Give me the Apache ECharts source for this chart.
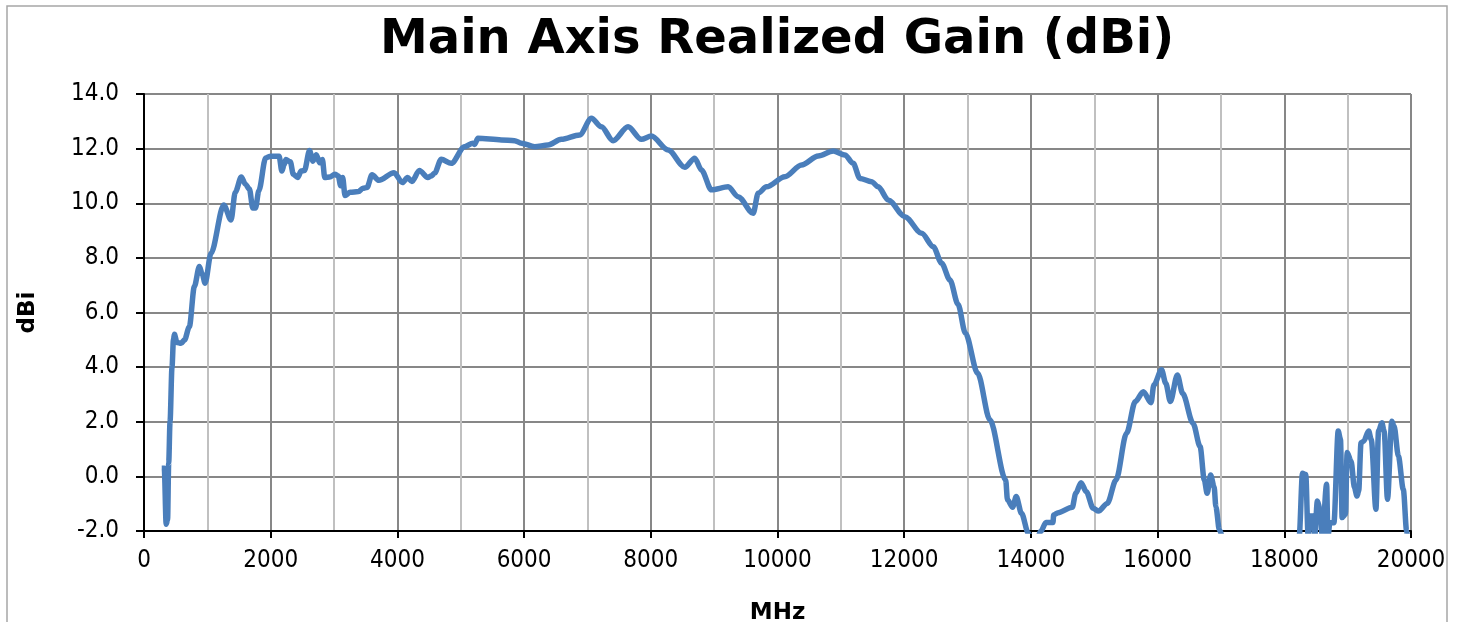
<!DOCTYPE html>
<html>
<head>
<meta charset="utf-8">
<title>Main Axis Realized Gain</title>
<script src="https://cdn.jsdelivr.net/npm/echarts@6.0.0/dist/echarts.min.js"></script>
<style>
  html, body { margin: 0; padding: 0; background: #fff; }
  #chart { width: 1460px; height: 622px; }
</style>
</head>
<body>
<div id="chart"></div>
<script>
// frequency samples (MHz)
const freqMHz = [
  280, 320, 350, 372, 390, 411, 442, 465, 480, 520, 585, 640, 716, 795, 874, 920, 964,
  1058, 1259, 1374, 1440, 1536, 1600, 1664, 1717, 1760, 1813, 1920, 2000, 2133, 2176,
  2213, 2240, 2309, 2357, 2427, 2480, 2533, 2613, 2667, 2720, 2773, 2816, 2853, 2933,
  3013, 3067, 3104, 3136, 3173, 3253, 3387, 3456, 3520, 3600, 3707, 3947, 4080, 4160,
  4229, 4347, 4480, 4533, 4587, 4692, 4850, 5060, 5192, 5218, 5271, 5640, 5850, 5956,
  6167, 6378, 6588, 6877, 7062, 7220, 7404, 7641, 7851, 8009, 8273, 8536, 8694, 8799,
  8957, 9221, 9379, 9616, 9695, 9826, 10116, 10379, 10643, 10880, 11063, 11195, 11300,
  11485, 11590, 11748, 12011, 12275, 12460, 12591, 12722, 12850, 12966, 13159, 13353,
  13602, 13630, 13712, 13768, 13851, 13961, 14060, 14155, 14238, 14348, 14360, 14431,
  14653, 14708, 14791, 14874, 14984, 15067, 15206, 15344, 15510, 15648, 15775, 15897,
  15941, 16063, 16129, 16201, 16312, 16395, 16560, 16671, 16737, 16782, 16837, 16892,
  16920, 16975, 17100, 18150, 18235, 18287, 18339, 18376, 18402, 18459, 18480, 18522,
  18564, 18600, 18668, 18689, 18720, 18783, 18851, 18887, 18913, 18965, 18992, 19054,
  19107, 19148, 19174, 19211, 19253, 19331, 19373, 19446, 19488, 19540, 19576, 19629,
  19697, 19733, 19801, 19879, 19931, 19960
];

// realized gain (dBi) at each frequency above
const gainDbi = [
  0.3, 0.3, -1.75, -1.6, 0.5, 2.0, 4.0, 5.0, 5.2, 4.9, 4.87, 5.0, 5.48, 6.95, 7.68, 7.4, 7.07,
  8.17, 9.94, 9.39, 10.4, 10.96, 10.7, 10.52, 9.83, 9.83, 10.46, 11.66, 11.72, 11.72, 11.18,
  11.42, 11.6, 11.52, 11.06, 10.94, 11.18, 11.2, 11.93, 11.54, 11.78, 11.48, 11.6, 10.94, 10.96,
  11.06, 11.0, 10.64, 10.94, 10.28, 10.4, 10.43, 10.55, 10.58, 11.04, 10.84, 11.12, 10.76, 10.94,
  10.8, 11.2, 10.94, 11.0, 11.1, 11.61, 11.46, 12.07, 12.2, 12.15, 12.38, 12.32, 12.29, 12.2,
  12.07, 12.13, 12.34, 12.5, 13.11, 12.8, 12.29, 12.8, 12.34, 12.46, 11.95, 11.32, 11.65, 11.22,
  10.49, 10.6, 10.24, 9.63, 10.37, 10.6, 10.97, 11.4, 11.73, 11.91, 11.77, 11.46, 10.91,
  10.79, 10.6, 10.12, 9.51, 8.9, 8.41, 7.8, 7.19, 6.3, 5.24, 3.78, 2.07,
  -0.13, -0.86, -1.13, -0.74, -1.35, -2.09, -2.6, -2.02, -1.69, -1.69, -1.41, -1.33,
  -1.13, -0.62, -0.23, -0.56, -1.17, -1.27, -0.99, -0.13, 1.58, 2.74, 3.1, 2.7,
  3.35, 3.9, 3.41, 2.74, 3.71, 3.04, 1.94, 1.09, -0.13, -0.62, 0.05, -0.38,
  -1.11, -1.96, -3.0, -3.0, -2.2, 0.11, 0.07, -2.2, -1.45, -1.45, -2.2, -0.9,
  -1.2, -2.2, -0.29, -2.2, -1.7, -1.7, 1.66, 1.35, -1.51, -1.39, 0.87, 0.56,
  -0.41, -0.72, -0.54, 1.23, 1.29, 1.66, 1.35, -1.2, 1.66, 1.96, 1.66, -0.84,
  2.02, 1.84, 0.74, -0.48, -2.0, -2.8
];

const chartTitle = "Main Axis Realized Gain (dBi)";
const xName = "MHz";
const yName = "dBi";

const seriesData = freqMHz.map((f, i) => [f, gainDbi[i]]);

const chart = echarts.init(document.getElementById("chart"), null, { renderer: "canvas" });

const labelFont = "Tahoma, 'DejaVu Sans Condensed', 'DejaVu Sans', sans-serif";
const boldFont = "'DejaVu Sans', Verdana, sans-serif";

chart.setOption({
  backgroundColor: "#fff",
  animation: false,
  title: {
    text: chartTitle,
    left: 375,
    top: 12,
    textStyle: {
      fontFamily: boldFont,
      fontWeight: "bold",
      fontSize: 48,
      color: "#000",
    },
  },
  graphic: [
    {
      type: "rect",
      silent: true,
      shape: { x: 7, y: 6, width: 1440, height: 700 },
      style: { fill: null, stroke: "#a6a6a6", lineWidth: 1.5 },
    },
  ],
  grid: {
    left: 144,
    right: 49,
    top: 94,
    bottom: 91,
    containLabel: false,
    outerBoundsMode: "none",
  },
  xAxis: {
    type: "value",
    min: 0,
    max: 20000,
    interval: 2000,
    name: xName,
    nameLocation: "middle",
    nameGap: 71,
    nameTextStyle: {
      fontFamily: boldFont,
      fontWeight: "bold",
      fontSize: 23,
      color: "#000",
    },
    axisLine: { show: true, onZero: false, lineStyle: { color: "#000", width: 2 } },
    axisTick: { show: true, inside: false, length: 7, lineStyle: { color: "#000", width: 2 } },
    axisLabel: {
      margin: 18,
      fontFamily: labelFont,
      fontSize: 24,
      color: "#000",
      formatter: (v) => String(v),
    },
    splitLine: { show: true, lineStyle: { color: "#878787", width: 2 } },
    minorTick: { show: false, splitNumber: 2 },
    minorSplitLine: { show: true, lineStyle: { color: "#c0c0c0", width: 2 } },
  },
  yAxis: {
    type: "value",
    min: -2,
    max: 14,
    interval: 2,
    name: yName,
    nameLocation: "middle",
    nameRotate: 90,
    nameGap: 104,
    nameTextStyle: {
      fontFamily: boldFont,
      fontWeight: "bold",
      fontSize: 23,
      color: "#000",
    },
    axisLine: { show: true, lineStyle: { color: "#000", width: 2 } },
    axisTick: { show: true, inside: false, length: 8, lineStyle: { color: "#000", width: 2 } },
    axisLabel: {
      margin: 25,
      fontFamily: labelFont,
      fontSize: 24,
      color: "#000",
      formatter: (v) => v.toFixed(1),
    },
    splitLine: { show: true, lineStyle: { color: "#878787", width: 2 } },
  },
  series: [
    {
      name: chartTitle,
      type: "line",
      data: seriesData,
      showSymbol: false,
      smooth: 0.3,
      smoothMonotone: "x",
      clip: true,
      lineStyle: { color: "#4a7ebb", width: 5.5 },
      itemStyle: { color: "#4a7ebb" },
    },
  ],
});
</script>
</body>
</html>
